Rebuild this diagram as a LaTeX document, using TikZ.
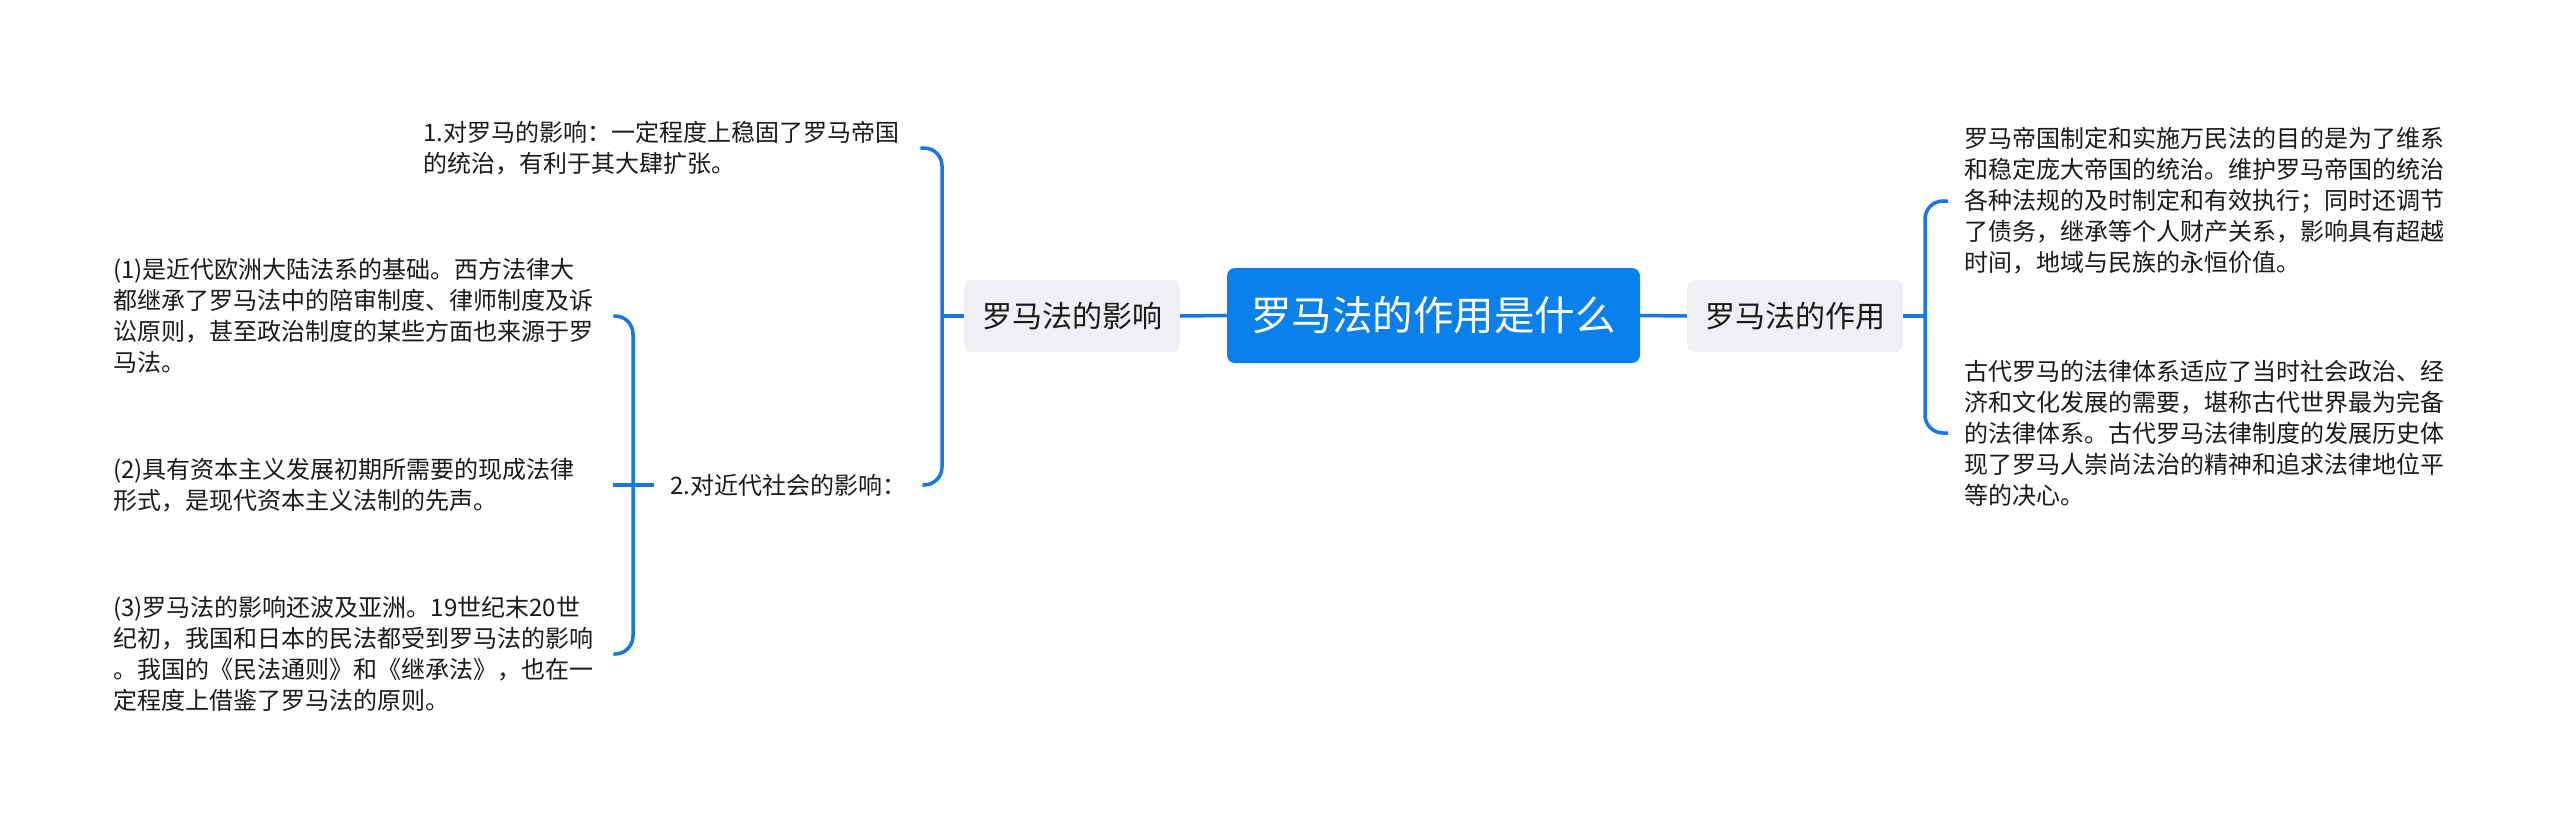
\documentclass[tikz,border=0pt]{standalone}
\usepackage{fontspec}
\newfontfamily\cjk{Noto Sans CJK SC}
\definecolor{rootblue}{HTML}{0A80EC}
\definecolor{linec}{HTML}{1677E5}
\definecolor{grayfill}{HTML}{EEF0F3}
\definecolor{textc}{HTML}{1A1A1A}
\begin{document}
\begin{tikzpicture}[x=1pt,y=-1pt,
  conn/.style={draw=linec,line width=3.5pt},
  bracket/.style={conn,rounded corners=18pt},
  rootnode/.style={fill=rootblue,rounded corners=8pt,minimum width=413pt,minimum height=95pt,inner sep=0pt,text=white,font=\cjk\fontsize{40.5}{48}\selectfont},
  mainnode/.style={fill=grayfill,rounded corners=8pt,minimum width=216pt,minimum height=72pt,inner sep=0pt,text=textc,font=\cjk\fontsize{30}{36}\selectfont},
  leaf/.style={font=\cjk\fontsize{24}{31}\selectfont,text=textc,inner xsep=16pt,inner ysep=0pt,align=left,anchor=west},
  leafw/.style={leaf,text width=484pt}
]
\path[use as bounding box,fill=white] (0,0) rectangle (2560,833);

\node[rootnode] (root) at (1433.5,315.5) {罗马法的作用是什么};
\node[mainnode] (L) at (1072,316) {罗马法的影响};
\node[mainnode] (R) at (1795,316) {罗马法的作用};

% left side
\node[leaf,text width=481pt] (A1) at (407,148) {1.对罗马的影响：一定程度上稳固了罗马帝国\\的统治，有利于其大肆扩张。};
\node[leaf] (A2) at (654,485) {2.对近代社会的影响：};
\node[leafw] (B1) at (97,316) {(1)是近代欧洲大陆法系的基础。西方法律大\\都继承了罗马法中的陪审制度、律师制度及诉\\讼原则，甚至政治制度的某些方面也来源于罗\\马法。};
\node[leafw] (B2) at (97,485) {(2)具有资本主义发展初期所需要的现成法律\\形式，是现代资本主义法制的先声。};
\node[leafw] (B3) at (97,654) {(3)罗马法的影响还波及亚洲。19世纪末20世\\纪初，我国和日本的民法都受到罗马法的影响\\。我国的《民法通则》和《继承法》，也在一\\定程度上借鉴了罗马法的原则。};

% right side
\node[leaf,text width=484pt] (R1) at (1948,201) {罗马帝国制定和实施万民法的目的是为了维系\\和稳定庞大帝国的统治。维护罗马帝国的统治\\各种法规的及时制定和有效执行；同时还调节\\了债务，继承等个人财产关系，影响具有超越\\时间，地域与民族的永恒价值。};
\node[leaf,text width=484pt] (R2) at (1948,433) {古代罗马的法律体系适应了当时社会政治、经\\济和文化发展的需要，堪称古代世界最为完备\\的法律体系。古代罗马法律制度的发展历史体\\现了罗马人崇尚法治的精神和追求法律地位平\\等的决心。};

\coordinate (jL) at (942,316);
\coordinate (jA) at (633,485);
\coordinate (jR) at (1925,316);

\draw[conn] (root.west) -- (L.east);
\draw[conn] (root.east) -- (R.west);

\draw[conn] (L.west) -- (jL);
\draw[bracket] (A1.east) -| (jL) |- (A2.east);

\draw[conn] (A2.west) -- (jA);
\draw[conn] (jA) -- (B2.east);
\draw[bracket] (B1.east) -| (jA) |- (B3.east);

\draw[conn] (R.east) -- (jR);
\draw[bracket] (R1.west) -| (jR) |- (R2.west);
\end{tikzpicture}
\end{document}
